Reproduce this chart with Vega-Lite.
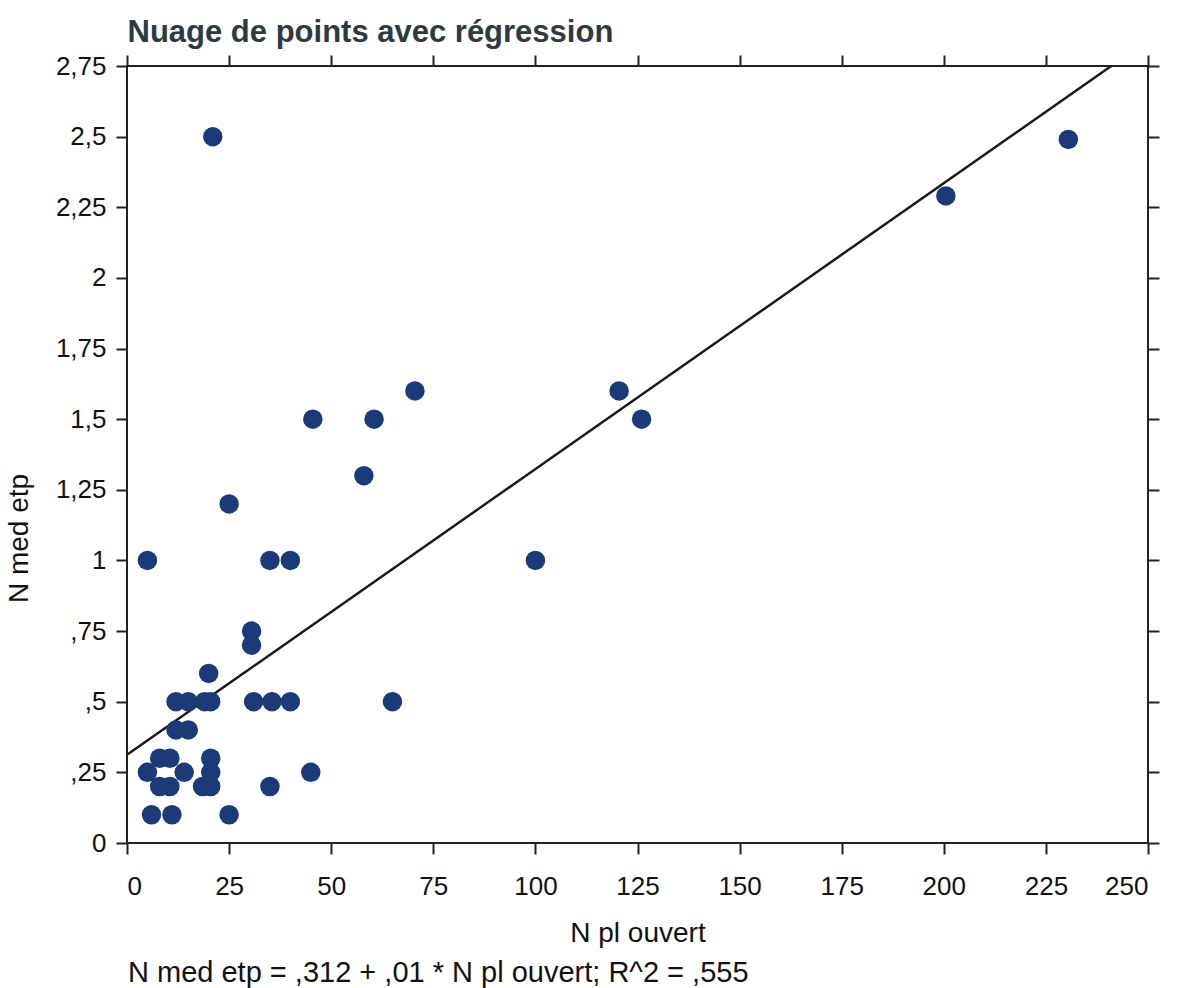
{
  "$schema": "https://vega.github.io/schema/vega-lite/v6.json",
  "width": 1021,
  "height": 777,
  "padding": {"left": 5, "top": 16, "right": 5, "bottom": 5},
  "background": "white",
  "config": {
    "font": "Liberation Sans",
    "view": {"stroke": "#222222", "strokeWidth": 2},
    "axis": {
      "domain": false,
      "grid": false,
      "tickColor": "#222222",
      "tickWidth": 2,
      "tickSize": 11,
      "labelFont": "Liberation Sans",
      "labelFontSize": 26,
      "labelColor": "#111111",
      "titleFont": "Liberation Sans",
      "titleFontSize": 28,
      "titleFontWeight": "normal",
      "titleColor": "#111111"
    }
  },
  "title": {
    "text": "N med etp = ,312 + ,01 * N pl ouvert; R^2 = ,555",
    "orient": "bottom",
    "anchor": "start",
    "frame": "group",
    "fontSize": 29,
    "fontWeight": "normal",
    "color": "#111111",
    "font": "Liberation Sans",
    "offset": 12,
    "dx": 1
  },
  "datasets": {
    "pts": [
      {"npl": 5, "nmed": 1.0},
      {"npl": 21, "nmed": 2.5},
      {"npl": 25, "nmed": 1.2},
      {"npl": 35, "nmed": 1.0},
      {"npl": 40, "nmed": 1.0},
      {"npl": 45.5, "nmed": 1.5},
      {"npl": 58, "nmed": 1.3},
      {"npl": 60.5, "nmed": 1.5},
      {"npl": 70.5, "nmed": 1.6},
      {"npl": 30.5, "nmed": 0.75},
      {"npl": 30.5, "nmed": 0.7},
      {"npl": 20, "nmed": 0.6},
      {"npl": 12, "nmed": 0.5},
      {"npl": 15, "nmed": 0.5},
      {"npl": 19, "nmed": 0.5},
      {"npl": 20.5, "nmed": 0.5},
      {"npl": 31, "nmed": 0.5},
      {"npl": 35.5, "nmed": 0.5},
      {"npl": 40, "nmed": 0.5},
      {"npl": 65, "nmed": 0.5},
      {"npl": 12, "nmed": 0.4},
      {"npl": 15, "nmed": 0.4},
      {"npl": 8, "nmed": 0.3},
      {"npl": 10.5, "nmed": 0.3},
      {"npl": 20.5, "nmed": 0.3},
      {"npl": 5, "nmed": 0.25},
      {"npl": 14, "nmed": 0.25},
      {"npl": 20.5, "nmed": 0.25},
      {"npl": 45, "nmed": 0.25},
      {"npl": 8, "nmed": 0.2},
      {"npl": 10.5, "nmed": 0.2},
      {"npl": 18.5, "nmed": 0.2},
      {"npl": 20.5, "nmed": 0.2},
      {"npl": 35, "nmed": 0.2},
      {"npl": 6, "nmed": 0.1},
      {"npl": 11, "nmed": 0.1},
      {"npl": 25, "nmed": 0.1},
      {"npl": 100, "nmed": 1.0},
      {"npl": 120.5, "nmed": 1.6},
      {"npl": 126, "nmed": 1.5},
      {"npl": 200.5, "nmed": 2.29},
      {"npl": 230.5, "nmed": 2.49}
    ],
    "fit": [
      {"npl": 0, "nmed": 0.312},
      {"npl": 241, "nmed": 2.75}
    ]
  },
  "layer": [
    {
      "data": {"name": "fit"},
      "mark": {"type": "line", "color": "#1a1a1a", "strokeWidth": 2.5, "clip": true},
      "encoding": {
        "x": {
          "field": "npl", "type": "quantitative",
          "scale": {"domain": [0, 250], "nice": false, "zero": false},
          "axis": {
            "orient": "top",
            "values": [0, 25, 50, 75, 100, 125, 150, 175, 200, 225, 250],
            "labels": false,
            "title": "Nuage de points avec régression",
            "titleAnchor": "start",
            "titleFontSize": 31,
            "titleFontWeight": "bold",
            "titleColor": "#2e3a42",
            "titlePadding": 6
          }
        },
        "y": {
          "field": "nmed", "type": "quantitative",
          "scale": {"domain": [0, 2.75], "nice": false, "zero": false},
          "axis": {
            "orient": "right",
            "values": [0, 0.25, 0.5, 0.75, 1, 1.25, 1.5, 1.75, 2, 2.25, 2.5, 2.75],
            "labels": false,
            "title": null
          }
        }
      }
    },
    {
      "data": {"name": "pts"},
      "mark": {"type": "circle", "size": 380, "color": "#1b3b78", "opacity": 1},
      "encoding": {
        "x": {
          "field": "npl", "type": "quantitative",
          "axis": {
            "orient": "bottom",
            "values": [0, 25, 50, 75, 100, 125, 150, 175, 200, 225, 250],
            "labelPadding": 19,
            "title": "N pl ouvert",
            "titlePadding": 20
          }
        },
        "y": {
          "field": "nmed", "type": "quantitative",
          "axis": {
            "orient": "left",
            "values": [0, 0.25, 0.5, 0.75, 1, 1.25, 1.5, 1.75, 2, 2.25, 2.5, 2.75],
            "labelPadding": 10,
            "labelExpr": "datum.value == 0 ? '0' : replace(replace(format(datum.value, '.2~f'), '0.', '.'), '.', ',')",
            "title": "N med etp",
            "titlePadding": 22,
            "titleY": 472,
            "titleAlign": "center"
          }
        }
      }
    }
  ],
  "resolve": {"axis": {"x": "independent", "y": "independent"}}
}
